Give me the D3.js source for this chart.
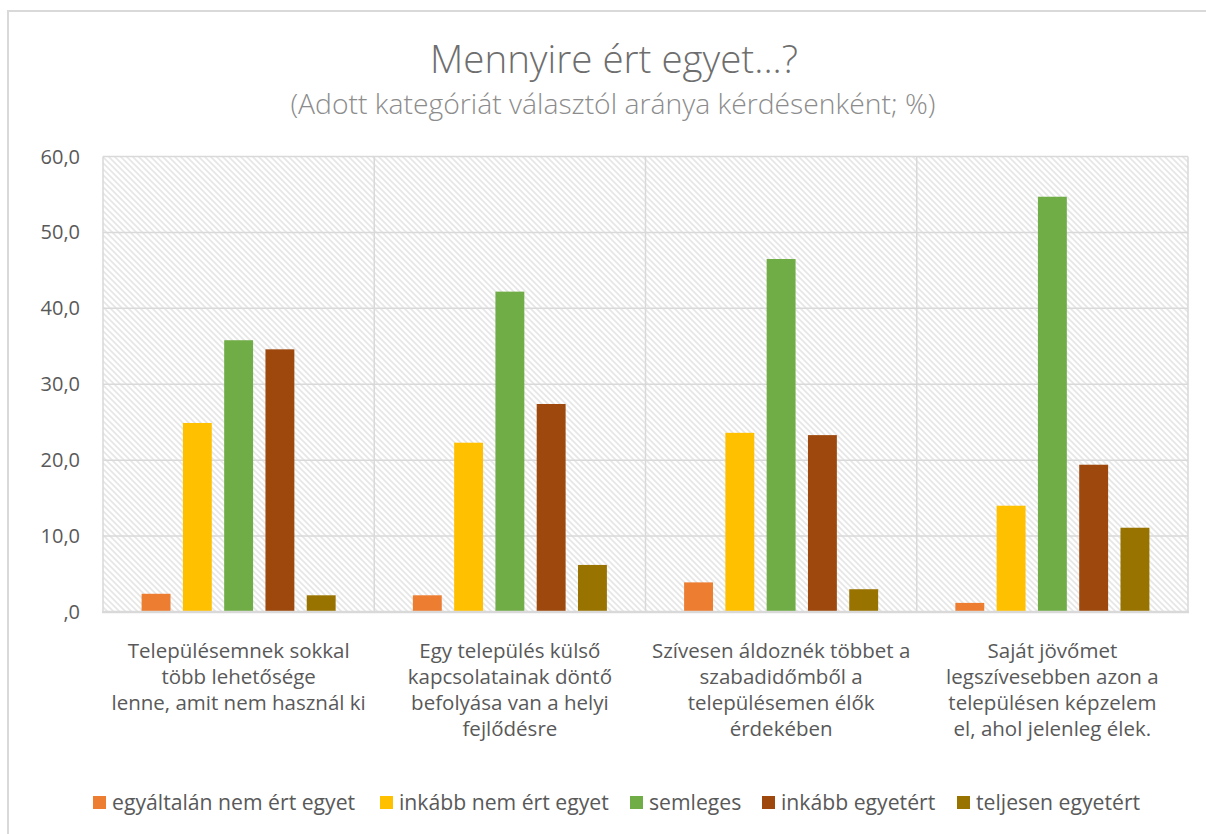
<!DOCTYPE html>
<html>
<head>
<meta charset="utf-8">
<script src="https://cdn.jsdelivr.net/npm/d3@7"></script>
<style>
  body { margin: 0; background: #fff; }
  text { font-family: "Open Sans", sans-serif; }
</style>
</head>
<body>
<div id="chart"></div>
<script>
// Data
const categories = [
    ["Településemnek sokkal", "több lehetősége", "lenne, amit nem használ ki"],
    ["Egy település külső", "kapcsolatainak döntő", "befolyása van a helyi", "fejlődésre"],
    ["Szívesen áldoznék többet a", "szabadidőmből a", "településemen élők", "érdekében"],
    ["Saját jövőmet", "legszívesebben azon a", "településen képzelem", "el, ahol jelenleg élek."]
];
const seriesNames = ["egyáltalán nem ért egyet", "inkább nem ért egyet", "semleges", "inkább egyetért", "teljesen egyetért"];
const seriesColors = ["#ED7D31", "#FFC000", "#70AD47", "#9E480E", "#997300"];
const nemErtEgyet = [2.4, 2.2, 3.9, 1.2];
const inkabbNem = [24.9, 22.3, 23.6, 14.0];
const semleges = [35.8, 42.2, 46.5, 54.7];
const inkabbIgen = [34.6, 27.4, 23.3, 19.4];
const teljesen = [2.2, 6.2, 3.0, 11.1];
const yTicks = [0, 10, 20, 30, 40, 50, 60];

const seriesValues = [nemErtEgyet, inkabbNem, semleges, inkabbIgen, teljesen];

const width = 1206, height = 834;
const plot = { left: 103, right: 1188, top: 156.5, bottom: 612 };

const svg = d3.select("#chart")
    .append("svg")
    .attr("width", width)
    .attr("height", height);

// hatch pattern for the plot background
const defs = svg.append("defs");
const pattern = defs.append("pattern")
    .attr("id", "hatch")
    .attr("patternUnits", "userSpaceOnUse")
    .attr("width", 6)
    .attr("height", 6);
pattern.append("rect").attr("width", 6).attr("height", 6).attr("fill", "#fff");
pattern.append("path")
    .attr("d", "M-1,-1 L7,7 M-4,2 L1,7 M2,-4 L7,1")
    .attr("stroke", "#e6e6e6")
    .attr("stroke-width", 1.6);

// outer chart frame
svg.append("rect")
    .attr("x", 8).attr("y", 11)
    .attr("width", width).attr("height", height)
    .attr("fill", "none")
    .attr("stroke", "#d9d9d9")
    .attr("stroke-width", 2);

svg.append("text")
    .attr("x", 614).attr("y", 73)
    .attr("text-anchor", "middle")
    .attr("font-size", 38.5)
    .attr("font-weight", 300)
    .attr("fill", "#6e6e6e")
    .text("Mennyire ért egyet...?");

svg.append("text")
    .attr("x", 613).attr("y", 114)
    .attr("text-anchor", "middle")
    .attr("font-size", 28.3)
    .attr("font-weight", 300)
    .attr("fill", "#8c8c8c")
    .text("(Adott kategóriát választól aránya kérdésenként; %)");

const x0 = d3.scaleBand()
    .domain(d3.range(categories.length))
    .range([plot.left, plot.right]);

const x1 = d3.scaleBand()
    .domain(d3.range(seriesNames.length))
    .range([x0.bandwidth() * 0.1195, x0.bandwidth() * (1 - 0.1195)])
    .paddingInner(0.3)
    .paddingOuter(0.15);

const y = d3.scaleLinear()
    .domain([0, 60])
    .range([plot.bottom, plot.top]);

svg.append("rect")
    .attr("x", plot.left).attr("y", plot.top)
    .attr("width", plot.right - plot.left)
    .attr("height", plot.bottom - plot.top)
    .attr("fill", "url(#hatch)");

// horizontal gridlines
svg.append("g")
    .selectAll("line")
    .data(yTicks)
    .join("line")
    .attr("x1", plot.left).attr("x2", plot.right)
    .attr("y1", d => y(d)).attr("y2", d => y(d))
    .attr("stroke", "#d9d9d9")
    .attr("stroke-width", 1.5);

// vertical gridlines at category boundaries
svg.append("g")
    .selectAll("line")
    .data(d3.range(categories.length + 1))
    .join("line")
    .attr("x1", d => plot.left + d * x0.bandwidth())
    .attr("x2", d => plot.left + d * x0.bandwidth())
    .attr("y1", plot.top).attr("y2", plot.bottom)
    .attr("stroke", "#d9d9d9")
    .attr("stroke-width", 1.5);

// y axis labels
svg.append("g")
    .selectAll("text")
    .data(yTicks)
    .join("text")
    .attr("x", 80)
    .attr("y", d => y(d))
    .attr("dy", "0.35em")
    .attr("text-anchor", "end")
    .attr("font-size", 20)
    .attr("fill", "#595959")
    .text(d => d === 0 ? ",0" : d3.format(".1f")(d).replace(".", ","));

// bars
const groups = svg.append("g")
    .selectAll("g")
    .data(categories.map((c, i) => i))
    .join("g")
    .attr("transform", i => `translate(${x0(i)},0)`);

groups.selectAll("rect")
    .data(i => seriesValues.map((vals, s) => ({ s, v: vals[i] })))
    .join("rect")
    .attr("x", d => x1(d.s))
    .attr("width", x1.bandwidth())
    .attr("y", d => y(d.v))
    .attr("height", d => y(0) - y(d.v))
    .attr("fill", d => seriesColors[d.s]);

// bottom axis line
svg.append("line")
    .attr("x1", plot.left - 1).attr("x2", plot.right + 1)
    .attr("y1", plot.bottom).attr("y2", plot.bottom)
    .attr("stroke", "#d9d9d9")
    .attr("stroke-width", 2.5);

// category labels
const catLabels = svg.append("g")
    .selectAll("text")
    .data(categories)
    .join("text")
    .attr("x", (d, i) => x0(i) + x0.bandwidth() / 2)
    .attr("y", 658)
    .attr("text-anchor", "middle")
    .attr("font-size", 20.5)
    .attr("fill", "#595959");

catLabels.selectAll("tspan")
    .data(d => d)
    .join("tspan")
    .attr("x", function () { return d3.select(this.parentNode).attr("x"); })
    .attr("dy", (d, j) => j === 0 ? 0 : 26)
    .text(d => d);

// legend
const legendX = [93, 380, 630, 762, 957];
const legend = svg.append("g")
    .selectAll("g")
    .data(seriesNames)
    .join("g")
    .attr("transform", (d, i) => `translate(${legendX[i]},803)`);

legend.append("rect")
    .attr("x", 0).attr("y", -7)
    .attr("width", 13).attr("height", 13)
    .attr("fill", (d, i) => seriesColors[i]);

legend.append("text")
    .attr("x", 19)
    .attr("dy", "0.35em")
    .attr("font-size", 21.2)
    .attr("fill", "#595959")
    .text(d => d);
</script>
</body>
</html>
